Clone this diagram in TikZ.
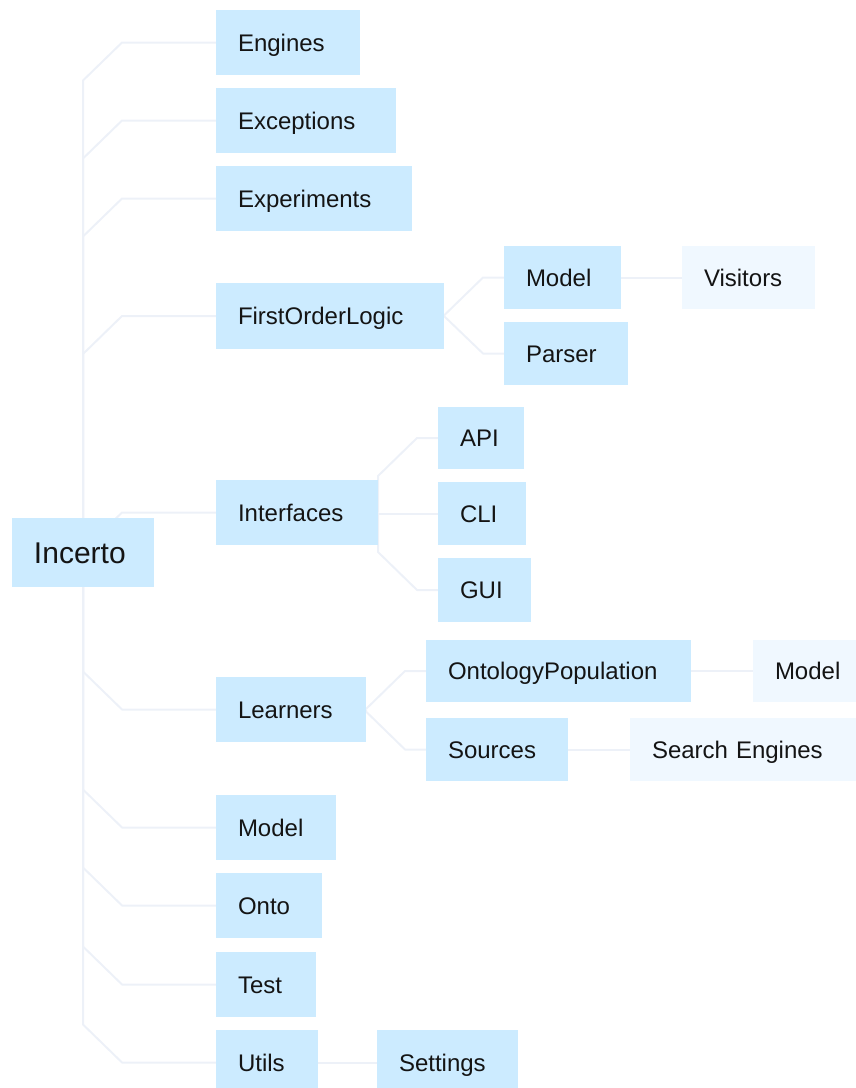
\documentclass[tikz,border=0pt]{standalone}
\usepackage{fontspec}
\setmainfont{Liberation Sans}
\usetikzlibrary{calc,backgrounds}

\definecolor{nodefill}{RGB}{204,235,255}
\definecolor{leaffill}{RGB}{240,248,255}
\definecolor{wire}{RGB}{237,241,248}
\definecolor{ink}{RGB}{20,20,20}

\tikzset{
  box/.style 2 args={fill=nodefill, anchor=north west, inner xsep=22pt, inner ysep=0pt,
    outer sep=0pt, minimum width=#1pt, minimum height=#2pt, text width=#1pt-44pt,
    align=left, text height=17pt, text depth=0pt,
    font=\fontsize{24}{28}\selectfont, text=ink},
  leaf/.style={fill=leaffill},
  rootbox/.style={font=\fontsize{30}{34}\selectfont, text height=21.5pt},
  conn/.style={draw=wire, line width=2pt, line join=round},
}

% elbow connector: vertical run at the parent, a 45-degree step, then straight into the child
\newcommand\branch[2]{%
  \draw[conn] let \p1=(#1), \p2=(#2.west),
    \n1={abs(\y1-\y2)<3 ? 0 : sign(\y1-\y2)*min(38,abs(\y1-\y2))},
    \n2={abs(\y1-\y2)<3 ? \y2 : \y1} in
    (\x1,\n2) -- (\x1,{\y2+\n1*1pt}) -- ({\x1+39pt},\y2) -- (\p2);}

\begin{document}
\begin{tikzpicture}[x=1pt,y=1pt]
  \useasboundingbox (0,0) rectangle (856,-1088);
  \clip (0,0) rectangle (856,-1088);

  % root
  \node[box={142}{69}, rootbox] (inc) at (12,-518) {Incerto};

  % first level
  \node[box={144}{65}] (eng) at (216,-10)   {Engines};
  \node[box={180}{65}] (exc) at (216,-88)   {Exceptions};
  \node[box={196}{65}] (exp) at (216,-166)  {Experiments};
  \node[box={228}{66}] (fol) at (216,-283)  {FirstOrderLogic};
  \node[box={162}{65}] (itf) at (216,-480)  {Interfaces};
  \node[box={150}{65}] (lrn) at (216,-677)  {Learners};
  \node[box={120}{65}] (mdl) at (216,-795)  {Model};
  \node[box={106}{65}] (ont) at (216,-873)  {Onto};
  \node[box={100}{65}] (tst) at (216,-952)  {Test};
  \node[box={102}{65}] (utl) at (216,-1030) {Utils};

  % FirstOrderLogic
  \node[box={117}{63}] (folm) at (504,-246) {Model};
  \node[box={133}{63}, leaf] (vis) at (682,-246) {Visitors};
  \node[box={124}{63}] (par) at (504,-322) {Parser};

  % Interfaces
  \node[box={86}{62}] (api) at (438,-407) {API};
  \node[box={88}{63}] (cli) at (438,-482) {CLI};
  \node[box={93}{64}] (gui) at (438,-558) {GUI};

  % Learners
  \node[box={265}{62}] (onp) at (426,-640) {OntologyPopulation};
  \node[box={118}{62}, leaf] (onm) at (753,-640) {Model};
  \node[box={142}{63}] (src) at (426,-718) {Sources};
  \node[box={250}{63}, leaf] (sen) at (630,-718) {Search Engines};

  % Utils
  \node[box={141}{65}] (set) at (377,-1030) {Settings};

  \begin{pgfonlayer}{background}
    \foreach \c in {eng,exc,exp,fol,itf,lrn,mdl,ont,tst,utl}
      {\branch{inc.center}{\c}}
    \branch{fol.east}{folm}
    \branch{fol.east}{par}
    \branch{folm.east}{vis}
    \branch{itf.east}{api}
    \branch{itf.east}{cli}
    \branch{itf.east}{gui}
    \branch{lrn.east}{onp}
    \branch{lrn.east}{src}
    \branch{onp.east}{onm}
    \branch{src.east}{sen}
    \branch{utl.east}{set}
  \end{pgfonlayer}
\end{tikzpicture}
\end{document}
